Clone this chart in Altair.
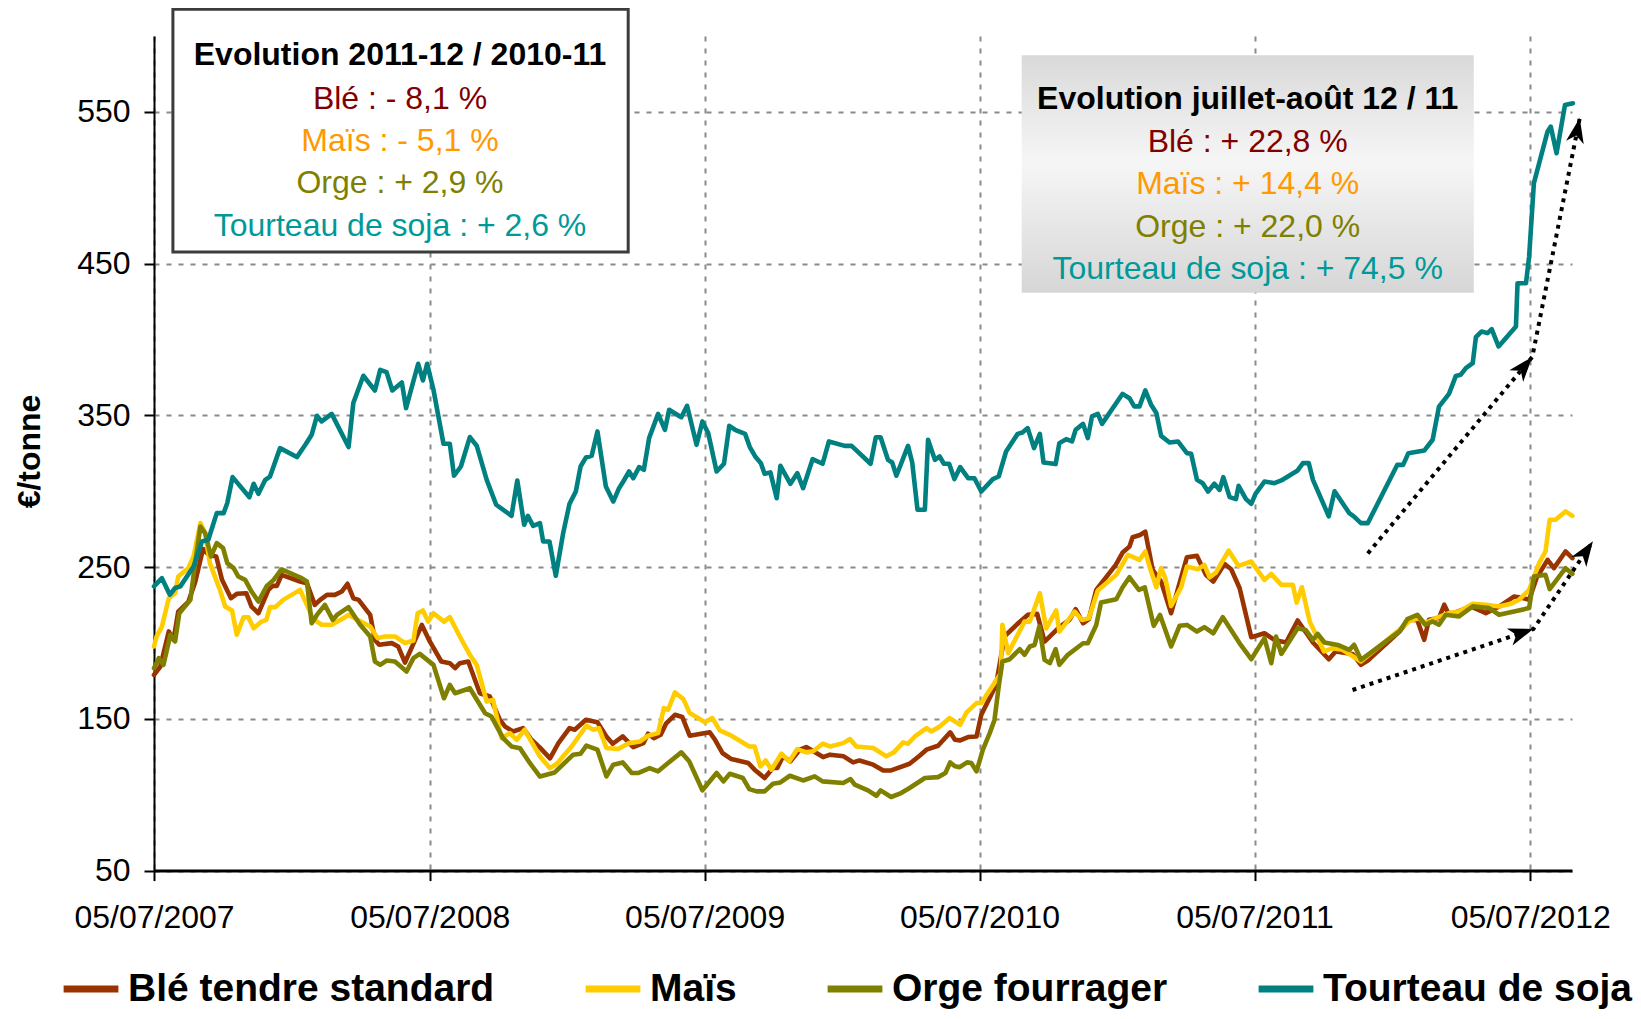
import math
import altair as alt
import pandas as pd
import numpy as np

FONT = "Liberation Sans"
START = pd.Timestamp("2007-07-05")
END = pd.Timestamp("2012-08-29 12:00")

series_names = ["Blé tendre standard", "Maïs", "Orge fourrager", "Tourteau de soja"]
series_colors = ["#993300", "#FFCC00", "#808000", "#008080"]

# (weeks since 05/07/2007, €/tonne)
ble = [
    (0, 179), (1.2, 184.5), (2.8, 207.6), (3.7, 202), (4.6, 220.7), (6.5, 227), (7.8, 240), (9.3, 262), (10.4, 258), (11.8, 257),
    (12.9, 241.6), (14.6, 229.5), (15.7, 232.4), (17.5, 232.8), (18.5, 224), (19.8, 219.6), (21.7, 235), (22.5, 237.6), (23.3, 237.6), (24.2, 244.9),
    (27.7, 240.5), (29.0, 239.4), (30.5, 225.1), (31.5, 228.4), (32.8, 231.7), (34.3, 231.7), (35.6, 233.9), (36.7, 239), (37.8, 229.5), (38.8, 228.4),
    (41.0, 218.5), (41.9, 202), (42.7, 198.8), (45.1, 199.9), (46.3, 197.7), (47.6, 187.1), (50.8, 211.9), (52.3, 201), (54.5, 187.8), (56.1, 186.7),
    (57.1, 183.4), (58.0, 186.7), (59.6, 187.8), (61.8, 166.9), (63.7, 164.7), (65.6, 149.3), (66.6, 144.9), (68.1, 141.7), (70.0, 143.9), (71.6, 136.2),
    (73.2, 131), (75.1, 124), (76.7, 134), (78.8, 143.9), (79.8, 142.8), (81.9, 149.4), (84.1, 147.7), (85.8, 138.4), (87.0, 133.6), (88.9, 138.4),
    (90.9, 131.4), (92.8, 134), (93.7, 140.2), (94.8, 137.3), (96.1, 139.5), (97.1, 146.8), (98.8, 152.7), (100.2, 151.2), (101.6, 138.9), (105.4, 141.1),
    (106.4, 136.2), (107.8, 127.5), (109.5, 123.5), (112.7, 120.9), (113.9, 116.5), (115.8, 111), (117.4, 117.6), (118.2, 117.6), (119.3, 125.3), (120.7, 122),
    (122.5, 129.7), (123.7, 131.4), (126.9, 124.8), (128.2, 126.4), (130.8, 125.3), (132.6, 121.3), (133.8, 122.6), (136.4, 119.8), (138.3, 116), (139.8, 116),
    (143.3, 120.4), (145.2, 125.7), (146.5, 129.7), (148.7, 132.3), (151.0, 141.1), (151.9, 136.2), (152.9, 135.8), (154.4, 138), (156.0, 138.4), (156.9, 152.7),
    (159.7, 172.4), (161.3, 204.3), (163.9, 213), (165.7, 218.5), (167.5, 219.2), (168.9, 200.9), (171.7, 210.4), (173.6, 215.2), (174.8, 222.3), (176.2, 213),
    (177.3, 215.7), (178.7, 235), (182.4, 251.5), (183.7, 259.6), (185.0, 263.5), (185.6, 269.7), (187.0, 271.2), (188.0, 273.4), (189.4, 248.2), (191.0, 240.5),
    (192.9, 219.6), (194.5, 239.4), (195.9, 256.5), (197.8, 257.4), (199.5, 244.9), (200.9, 240.5), (203.0, 252.1), (204.3, 248.6), (205.9, 236.1), (208.1, 203.8),
    (210.6, 206.4), (212.5, 202), (214.7, 200.3), (216.9, 214.8), (219.8, 200.3), (222.8, 189.3), (224.1, 194.4), (227.3, 192.8), (228.9, 185.6), (230.2, 188.4),
    (236.2, 207.6), (238.0, 215.3), (239.6, 215), (240.9, 202.1), (241.8, 215.3), (243.7, 216.4), (244.7, 225.2), (245.6, 218.6), (247.5, 221), (249.7, 224.1),
    (252.6, 219.7), (255.1, 224), (257.9, 230.6), (259.2, 230), (260.8, 228.5), (262.2, 242.7), (264.3, 254.8), (265.5, 249.3), (267.7, 260.3), (269.0, 255.9),
]

mais = [
    (0, 197.7), (0.5, 204.3), (1.5, 210.8), (2.8, 229.5), (4.0, 232.8), (4.6, 243.8), (6.5, 249.3), (7.5, 257), (8.8, 279), (9.7, 272.4),
    (10.6, 252.6), (12.5, 235), (13.5, 224), (14.8, 221.4), (15.7, 205.4), (17.0, 217), (17.9, 217), (18.9, 209.7), (20.4, 214.1), (21.3, 215.2),
    (22.0, 223.6), (23.0, 223.6), (24.5, 228.4), (27.7, 235), (29.0, 225.1), (30.2, 215.7), (31.8, 212), (33.7, 212), (35.9, 216.3), (36.9, 218.5),
    (41.0, 210.8), (42.4, 203.2), (43.8, 204.3), (45.7, 204.3), (47.6, 199.9), (49.2, 201.6), (50.0, 219.6), (51.0, 221.4), (52.0, 214.1), (53.0, 219.6),
    (55.0, 214.1), (56.1, 217), (58.0, 204.3), (59.9, 192.2), (61.2, 185.6), (63.1, 161.4), (64.3, 162.5), (65.9, 137.3), (67.5, 140.6), (68.8, 136.2),
    (70.3, 142.8), (73.2, 125.2), (75.1, 117.5), (76.4, 120.4), (79.2, 131.8), (82.0, 145.5), (83.3, 142.8), (84.4, 143.9), (85.8, 130.8), (88.0, 130.1),
    (90.1, 134), (92.2, 135.1), (93.7, 138.9), (95.6, 140.6), (96.7, 157.1), (97.5, 156), (98.8, 167.4), (100.4, 163), (101.6, 153.8), (104.5, 147.7),
    (105.9, 150.5), (107.3, 142.4), (109.2, 139.5), (112.9, 131.8), (113.9, 131.8), (115.0, 118.7), (116.0, 122.6), (117.1, 116.5), (119.0, 127), (120.5, 122),
    (122.0, 130.1), (123.7, 127.9), (125.0, 128.6), (126.8, 133.6), (128.2, 131.8), (130.7, 134), (132.0, 136.7), (133.2, 131.8), (136.4, 130.8), (138.9, 125.3),
    (140.3, 127.9), (142.1, 134.5), (143.0, 133.6), (144.3, 138.4), (146.5, 143.9), (147.4, 141.7), (149.0, 145), (150.9, 150.5), (152.9, 146.1), (154.1, 154.3),
    (156.0, 160.4), (156.9, 160.4), (160.6, 180), (160.9, 211.9), (162.0, 193.3), (165.1, 214.1), (166.1, 214.1), (168.0, 232.8), (169.2, 209.7), (171.1, 221.4),
    (171.7, 207.5), (174.6, 220.7), (176.0, 215.2), (177.3, 216.3), (179.0, 234.6), (182.5, 244.9), (184.7, 258), (186.9, 254.8), (188.0, 260.3), (188.8, 250.4),
    (190.1, 236.7), (191.0, 249.3), (191.8, 242.7), (192.9, 224.4), (194.8, 236.7), (195.9, 250.4), (198.0, 248.6), (199.2, 251.5), (200.2, 243.3), (201.4, 246.4),
    (203.8, 260.9), (205.7, 250.8), (208.1, 253.7), (210.6, 241.6), (211.9, 245.5), (213.8, 238.3), (216.0, 238.3), (216.7, 226.6), (217.7, 236.7), (219.2, 214),
    (221.0, 200.9), (221.9, 194.4), (223.5, 196.6), (225.4, 195.5), (228.9, 187.8), (236.2, 208.7), (238.0, 214.2), (239.9, 216.4), (241.1, 213.1), (243.1, 216.4),
    (245.6, 219.7), (247.5, 220.8), (250.1, 225.8), (252.6, 225.2), (255.1, 224.1), (257.3, 225.8), (258.9, 228.5), (260.8, 235), (262.7, 252.6), (263.9, 260.3),
    (264.7, 281.2), (265.8, 281.2), (267.7, 286.7), (269.0, 283.8),
]

orge = [
    (0, 183.4), (0.9, 190), (1.8, 185.6), (3.1, 205.4), (4.0, 201), (4.8, 219.6), (6.9, 228.4), (7.8, 252.6), (8.8, 276.7), (9.7, 272.4),
    (10.8, 257), (11.9, 265.8), (13.1, 262.5), (13.9, 252.6), (15.1, 249.3), (16.0, 243.8), (17.3, 241.6), (18.5, 233.9), (19.8, 227.3), (21.4, 237.6),
    (22.7, 241.6), (24.2, 248.6), (28.0, 242.7), (29.0, 240.5), (29.9, 213), (30.9, 218.5), (32.4, 225.1), (33.9, 215.2), (34.7, 218.5), (36.9, 223.6),
    (39.1, 212), (41.0, 204.3), (41.9, 187.8), (42.9, 185.6), (44.1, 188.4), (45.7, 187.8), (47.9, 181.2), (49.2, 190), (50.4, 192.8), (53.0, 185.6),
    (55.0, 163.6), (56.1, 172.4), (57.1, 166.9), (59.9, 170.2), (62.8, 153.7), (64.0, 151.5), (66.2, 137.3), (67.8, 131.8), (69.4, 130.7), (71.3, 120.8),
    (73.2, 112), (76.0, 114.7), (79.5, 126.4), (80.9, 127), (82.0, 132.3), (84.1, 129.7), (85.8, 112.1), (87.1, 119.8), (88.9, 121.3), (90.6, 114.3),
    (91.8, 114.3), (94.0, 117.6), (95.6, 115.4), (97.5, 120.9), (100.0, 127.9), (101.5, 122), (104.0, 102.9), (106.7, 114.3), (108.0, 108.8), (109.2, 113.8),
    (111.7, 111), (112.9, 103.7), (114.3, 102.2), (115.8, 102.2), (117.4, 107.2), (118.8, 108.1), (120.6, 112.5), (123.1, 109.4), (125.3, 112.1), (126.8, 108.8),
    (130.7, 107.7), (132.1, 110.3), (132.9, 106.6), (135.4, 102.9), (137.0, 99.3), (137.8, 102.9), (139.8, 98.5), (141.7, 101.1), (143.3, 104.4), (146.2, 111),
    (148.7, 111.6), (150.1, 114.3), (151.0, 121.3), (151.9, 118.7), (152.8, 118.2), (154.2, 121.3), (155.0, 120.9), (156.0, 115.4), (157.2, 129.7), (158.5, 140.6),
    (159.4, 149.3), (160.2, 171.3), (160.9, 187.8), (162.3, 189.3), (164.2, 195.9), (165.1, 192.2), (166.1, 197.7), (167.0, 198.7), (167.9, 210.8), (168.9, 188.9),
    (169.9, 186.7), (171.0, 195.9), (171.7, 185.6), (173.3, 192.2), (176.2, 199.8), (177.1, 199.8), (178.7, 211.9), (179.6, 226.6), (182.5, 228.8), (183.7, 236.7),
    (185.0, 243.3), (186.8, 235), (187.9, 236.7), (189.6, 211.3), (190.8, 218.5), (192.9, 197.7), (194.5, 211.3), (195.9, 211.9), (197.8, 207.5), (199.2, 210.4),
    (200.9, 206.4), (202.7, 217), (205.9, 199.8), (208.1, 189.3), (210.6, 203.2), (211.9, 186.7), (212.8, 204.2), (213.8, 192.8), (216.9, 209.7), (218.4, 208.6),
    (219.8, 202), (220.7, 206), (222.0, 200.3), (224.5, 198.7), (226.7, 195.5), (227.6, 198.8), (228.9, 188.9), (236.2, 207.6), (237.7, 215.7), (239.6, 218.6),
    (241.1, 212), (242.5, 214.2), (243.7, 212), (245.0, 218.6), (247.5, 217.5), (250.1, 224.1), (253.2, 223), (255.1, 218.6), (260.8, 223), (261.7, 243.8),
    (263.9, 244.9), (264.7, 235.5), (267.7, 249.3), (269.0, 245.6),
]

soja = [
    (0, 237.3), (1.5, 242.7), (3.0, 231.8), (4.0, 236.2), (5.0, 237.3), (7.5, 250.4), (9.1, 266.9), (10.3, 268), (11.9, 285.6), (13.2, 285.6),
    (13.9, 292.2), (14.9, 309.3), (18.1, 296.1), (18.9, 304.9), (19.8, 298.3), (21.1, 307.5), (22.0, 309.7), (23.9, 328.4), (27.1, 322.5), (28.7, 330.6),
    (29.9, 337.2), (30.9, 349.7), (31.8, 346), (33.7, 351), (36.9, 329.1), (37.8, 358.1), (39.7, 376.1), (41.9, 366.4), (42.9, 380), (44.1, 378.5),
    (45.2, 366.4), (47.0, 371.7), (47.8, 354.8), (50.1, 384), (51.0, 373), (51.8, 384), (53.0, 366.9), (54.9, 331.3), (56.1, 331.3), (56.9, 310.2),
    (58.2, 316.3), (59.9, 335.7), (61.2, 330), (63.1, 307.5), (64.9, 291.1), (67.8, 283.8), (68.9, 307.1), (70.2, 277.9), (70.9, 283.8), (71.9, 277.2),
    (73.2, 279), (73.8, 266.9), (75.0, 266.9), (76.2, 244.3), (77.6, 272.4), (78.8, 291.7), (80.0, 299.8), (80.9, 316.3), (81.9, 322.2), (83.0, 323.3),
    (84.1, 339.4), (85.7, 303.1), (87.1, 293.2), (88.2, 302), (89.0, 306.4), (90.1, 313), (90.9, 308.6), (92.0, 315.9), (92.9, 314.1), (93.9, 335),
    (95.6, 351), (96.9, 340.5), (97.7, 353.7), (100.0, 348.8), (101.1, 356.3), (102.9, 330.6), (104.0, 346), (105.1, 338.3), (106.7, 313), (108.1, 318.1),
    (109.1, 343.1), (110.2, 340.5), (112.1, 337.8), (113.0, 329.1), (114.1, 322.5), (115.1, 318.5), (115.8, 311.5), (116.9, 312.4), (118.1, 295.4), (118.8, 316.7),
    (120.7, 304.9), (122.0, 311.9), (123.1, 302), (124.9, 321.1), (126.8, 318.1), (128.0, 332.8), (131.0, 329.9), (132.3, 329.9), (135.9, 318.1), (136.9, 335.6),
    (137.8, 335.6), (139.2, 320.7), (140.0, 318.9), (140.8, 310.2), (143.0, 329.9), (143.8, 318.9), (144.8, 287.8), (146.2, 287.8), (146.8, 333.9), (148.1, 320.7),
    (149.0, 322.9), (149.8, 318.1), (150.8, 318.1), (151.8, 308), (152.9, 315.9), (154.4, 308.6), (155.6, 308.6), (156.9, 299.8), (159.1, 308), (160.2, 309.7),
    (161.6, 326.2), (163.8, 337.8), (164.7, 338.7), (165.7, 341.6), (166.9, 328.4), (168.0, 337.8), (168.7, 318.9), (171.0, 317.9), (171.7, 331.7), (173.0, 334.3),
    (174.1, 332.8), (174.8, 340.5), (176.2, 344.4), (177.1, 335), (177.9, 349.3), (179.0, 351), (179.8, 344.4), (183.7, 364.2), (185.0, 361.3), (185.9, 355.9),
    (186.9, 355.9), (188.0, 366.4), (189.1, 357), (190.1, 351.5), (191.0, 336.5), (192.6, 332.1), (194.2, 332.8), (195.9, 325.1), (196.7, 324.7), (197.8, 307.5),
    (198.9, 305.3), (199.9, 299.8), (201.1, 304.9), (202.1, 300.9), (202.8, 309.3), (204.0, 296.1), (205.2, 294.8), (205.7, 303.6), (207.1, 294.8), (208.1, 291.7),
    (208.9, 298.3), (210.6, 306.4), (212.5, 305.3), (213.8, 307.1), (216.9, 313.7), (217.9, 318.5), (219.0, 318.5), (219.8, 307.5), (222.8, 283.5), (223.9, 300),
    (226.7, 285.5), (227.6, 283.3), (228.9, 279), (230.2, 279), (235.8, 317.4), (236.9, 317.4), (237.9, 325.1), (240.9, 326.8), (242.5, 333.9), (243.7, 355.8),
    (245.6, 364.2), (246.9, 376), (247.8, 376.7), (248.8, 381.1), (250.1, 384.4), (250.7, 401.5), (251.8, 405.3), (252.9, 404.2), (253.7, 406.8), (255.0, 395.4),
    (258.3, 408.6), (258.6, 437.1), (260.2, 437.1), (260.8, 454.7), (261.7, 503), (264.3, 537.1), (264.9, 540.3), (266.0, 522.8), (267.6, 554.6), (269.1, 555.7),
]

# annotation arrows (weeks, €/tonne)
arrow_soja = [(230.2, 259), (261.4, 388.5), (270.4, 546)]
arrow_cereales = [(227.3, 169), (261.6, 209.2), (272.9, 267)]

box1_lines = ["Evolution 2011-12 / 2010-11", "Blé : - 8,1 %", "Maïs : - 5,1 %", "Orge : + 2,9 %", "Tourteau de soja : + 2,6 %"]
box2_lines = ["Evolution juillet-août 12 / 11", "Blé : + 22,8 %", "Maïs : + 14,4 %", "Orge : + 22,0 %", "Tourteau de soja : + 74,5 %"]
text_colors = ["#000000", "#800000", "#FF9900", "#808000", "#009999"]

y_ticks = [50, 150, 250, 350, 450, 550]
x_tick_years = [2007, 2008, 2009, 2010, 2011, 2012]

W, H = 1418, 834.6


def to_date(weeks):
    return START + pd.to_timedelta(np.asarray(weeks, dtype=float) * 7, unit="D")


def series_df(name, pts):
    w, v = zip(*pts)
    return pd.DataFrame({"serie": name, "date": to_date(w), "value": v, "idx": range(len(v))})


x_axis = alt.Axis(
    values=[alt.DateTime(year=y, month=7, date=5) for y in x_tick_years],
    format="%d/%m/%Y", title=None, labelFont=FONT, labelFontSize=32, labelColor="black",
    labelFlush=False, labelOverlap=False, labelPadding=22,
    tickSize=10, tickWidth=2, tickColor="black", domainColor="black", domainWidth=3,
    grid=True, gridColor="#8a8a8a", gridDash=[5, 7], gridWidth=2,
)
y_axis = alt.Axis(
    values=y_ticks, title="€/tonne", labelFont=FONT, labelFontSize=32, labelColor="black",
    labelPadding=14, tickSize=10, tickWidth=2, tickColor="black", domainColor="black", domainWidth=2,
    grid=True, gridColor="#8a8a8a", gridDash=[5, 7], gridWidth=2,
    titleFont=FONT, titleFontSize=32, titleFontWeight="bold", titleColor="black",
    titleAngle=270, titleX=-124.5, titleY=415, titleAlign="center", titleBaseline="middle",
)
X = alt.X("date:T", scale=alt.Scale(domain=[alt.DateTime(year=2007, month=7, date=5),
                                            alt.DateTime(year=2012, month=8, date=29, hours=12)]), axis=x_axis)
Y = alt.Y("value:Q", scale=alt.Scale(domain=[50, 600], nice=False, zero=False), axis=y_axis)
C = alt.Color("serie:N", scale=alt.Scale(domain=series_names, range=series_colors),
              legend=alt.Legend(orient="none", legendX=-94, legendY=922, direction="horizontal", title=None,
                                symbolType="stroke", symbolStrokeWidth=7, symbolSize=3000,
                                labelFont=FONT, labelFontSize=39, labelFontWeight="bold", labelColor="black",
                                labelLimit=1000, columnPadding=76, labelOffset=6, padding=0))

layers = []
for name, pts in zip(series_names, [ble, mais, orge, soja]):
    layers.append(alt.Chart(series_df(name, pts)).mark_line(strokeWidth=4.6, strokeJoin="round", strokeCap="round")
                  .encode(x=X, y=Y, color=C, order="idx:Q"))


def rect(x1, x2, y1, y2, **kw):
    return alt.Chart(alt.Data(values=[{}])).mark_rect(**kw).encode(
        x=alt.value(x1), x2=alt.value(x2), y=alt.value(y1), y2=alt.value(y2))


def label(text, x, y, color, bold):
    return alt.Chart(alt.Data(values=[{}])).mark_text(
        text=text, font=FONT, fontSize=32, fontWeight="bold" if bold else "normal",
        color=color, align="center", baseline="middle").encode(x=alt.value(x), y=alt.value(y))


layers.append(rect(18.9, 474.2, -26.8, 216, fill="white", stroke="#3c3c3c", strokeWidth=3))
for i, (t, col) in enumerate(zip(box1_lines, text_colors)):
    layers.append(label(t, 246, [19.3, 63.2, 105.1, 147, 189.9][i], col, i == 0))

grad = alt.Gradient(gradient="linear", x1=0, x2=0, y1=0, y2=1,
                    stops=[alt.GradientStop(offset=0, color="#d9d9d9"),
                           alt.GradientStop(offset=0.45, color="#f6f6f6"),
                           alt.GradientStop(offset=1, color="#d6d6d6")])
layers.append(rect(867.7, 1319.8, 19.3, 256.8, fill=grad))
for i, (t, col) in enumerate(zip(box2_lines, text_colors)):
    layers.append(label(t, 1093.7, [63.2, 106.1, 148, 190.9, 232.8][i], col, i == 0))

# arrows
days_total = (END - START) / pd.Timedelta(days=1)
px_day = W / days_total
px_val = H / 550.0
arrow_rows, head_rows = [], []
for k, pts in enumerate([arrow_soja, arrow_cereales]):
    for i, (w, v) in enumerate(pts):
        arrow_rows.append({"arrow": k, "idx": i, "w": w, "value": v})
        if i > 0:
            w0, v0 = pts[i - 1]
            dx = (w - w0) * 7 * px_day
            dy = -(v - v0) * px_val
            ang = math.degrees(math.atan2(dx, -dy)) % 360
            head_rows.append({"w": w, "value": v, "angle": ang})
adf = pd.DataFrame(arrow_rows)
adf["date"] = to_date(adf["w"])
hdf = pd.DataFrame(head_rows)
hdf["date"] = to_date(hdf["w"])

layers.append(alt.Chart(adf).mark_line(color="black", strokeWidth=4, strokeDash=[4, 5])
              .encode(x=X, y=Y, detail="arrow:N", order="idx:Q"))
ARROW = "M0,0L0.36,1L0,0.72L-0.36,1Z"
layers.append(alt.Chart(hdf).mark_point(shape=ARROW, size=2500, filled=True, fill="black", strokeWidth=0, opacity=1)
              .encode(x=X, y=Y, angle=alt.Angle("angle:Q", scale=None)))

chart = alt.layer(*layers).properties(
    width=W, height=H,
    padding={"left": 146, "top": 28, "right": 61, "bottom": 140},
    autosize=alt.AutoSizeParams(type="none"),
).configure_view(stroke=None)

chart.save("out.html", embed_options={"renderer": "svg", "actions": False})
